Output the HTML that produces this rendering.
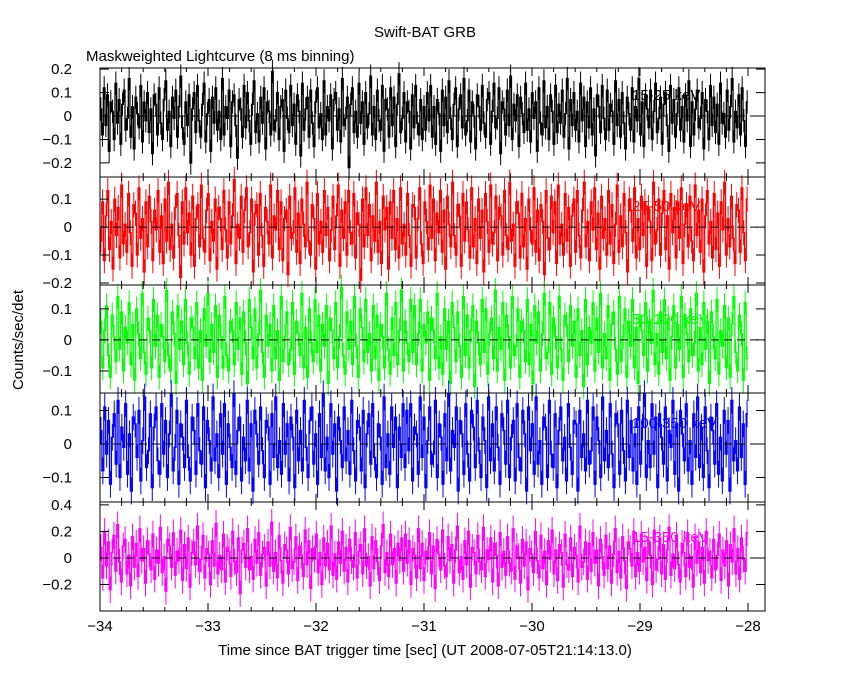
<!DOCTYPE html>
<html><head><meta charset="utf-8"><style>
body{margin:0;background:#fff}
svg text{font-family:"Liberation Sans",sans-serif;font-size:15px}
</style></head><body>
<svg id="chart" width="850" height="680" viewBox="0 0 850 680" xmlns="http://www.w3.org/2000/svg">
<rect width="850" height="680" fill="#fff"/>
<text x="425" y="37" text-anchor="middle">Swift-BAT GRB</text>
<text x="86" y="61">Maskweighted Lightcurve (8 ms binning)</text>
<text transform="translate(23,340) rotate(-90)" text-anchor="middle">Counts/sec/det</text>
<text x="425" y="655" text-anchor="middle">Time since BAT trigger time [sec] (UT 2008-07-05T21:14:13.0)</text>
<g id="plots"></g>
</svg>
<script>
const xTicks=[-34,-33,-32,-31,-30,-29,-28];
const labels=["15-25 keV","25-50 keV","50-100 keV","100-350 keV","15-350 keV"];
const s1=[3,-8,12,-4,9,-15,6,2,-10,14,-3,7,-12,5,11,-6,-1,16,-9,4,-14,8,1,-5,13,-11,6,-2,10,-7,3,-16,9,5,-8,12,-3,-10,7,15,-6,2,-13,8,-1,11,-9,4,17,-5,-12,6,-4,9,-20,3,10,-7,13,-2,-9,5,14,-11,1,7,-15,8,-3,12,-6,2,-10,16,-8,4,-1,11,-13,6,9,-4,-18,7,3,-9,13,-5,10,-2,-12,5,15,-7,1,-11,8,-3,12,-14,6,2,-8,19,-6,-2,10,-10,4,7,-15,11,-1,-7,13,-4,5,-12,9,2,-17,14,-6,3,8,-9,11,-3,-13,6,12,-5,1,-10,15,-8,4,-2,9,-14,7,10,-6,3,-11,16,-4,-1,8,-22,5,12,-7,2,-9,14,-3,6,-12,10,-5,1,17,-8,4,-10,11,-2,-6,13,-15,7,3,-9,12,-4,8,-13,5,18,-7,-1,10,-11,6,2,-14,9,-5,13,-3,-8,7,-10,4];
const t1=[-6,10,-2,13,-9,4,-12,7,1,-15,11,-4,8,-7,15,-1,-10,5,12,-13,3,9,-5,16,-8,-2,11,-11,6,0,-14,9,4,-6,13,-3,-9,7,10,-12,2,14,-5,-1,12,-16,6,3,-8,11,-4,17,-10,5,-2,9,-13,8,1,-7,14,-6,3,-11,10,-1,6,-15,12,-3,-8,15,-5,4,-10,9,2,-12,13,-7,5,-3,11,-9,1,16,-14,7,-4,10,-6,2,-11,14,-2,8,-13,6,-5,12,-8,3,-17,9,4,-7,13,-1,-10,11,-6,5,2,-12,15,-4,7,-9,10,-3,-14,8,1,-6,12,-11,4,-2,16,-8,6,-13,9,3,-5,11,-10,2,14,-7,-1,8,-12,5,10,-4,-15,13,-3,7,-9,1,12,-6,4,-11,9,-2,15,-13,6,-8,3,11,-5,-1,10,-14,7,2,-10,13,-4,8,-7,5,-12,14,-3,1,-9,11,-6,4,16,-11,2,-5,9,-8,12,-2,-13,6];
const s2=[-5,9,-12,4,13,-8,2,-15,10,-3,7,-11,15,-6,1,-9,12,-2,-14,8,5,-10,14,-4,3,-16,9,-7,11,2,-12,6,-1,13,-9,4,-13,10,-5,16,-8,1,-11,7,12,-3,-18,9,-6,14,-2,5,-10,11,-14,3,8,-7,15,-4,-9,6,12,-12,2,-5,10,-15,7,3,-8,13,-1,-11,9,-6,4,17,-13,1,-4,11,-9,6,14,-7,-2,10,-16,5,8,-10,12,-3,-14,7,2,-6,15,-11,4,-1,13,-8,9,-12,3,6,-17,11,-4,-2,14,-9,5,-13,10,1,-7,16,-5,-10,8,3,-15,12,-6,2,-9,13,-3,7,-12,-1,11,-8,4,15,-14,6,-4,9,-10,13,-2,-6,12,-11,5,1,-19,10,-7,14,-3,8,-12,4,-5,16,-9,2,-13,11,-1,7,-15,9,-4,13,-8,3,-11,14,-6,1,-10,12,-3,-14,8];
const t2=[7,-11,3,14,-6,-13,9,2,-8,15,-4,10,-12,5,-2,13,-9,6,-15,11,1,-7,16,-3,-10,8,4,-14,12,-5,9,-1,-11,14,-7,3,-13,10,-4,6,-16,12,2,-9,15,-6,-2,11,-12,7,4,-10,13,-3,-8,16,-5,1,-14,9,5,-11,12,-7,3,-15,10,-1,-6,14,-9,6,-12,8,2,-17,13,-4,-8,11,-2,9,-13,15,-6,1,-10,12,-5,7,-14,4,10,-9,13,-3,-11,6,16,-7,2,-12,9,-1,14,-8,5,-15,11,-4,3,-10,13,-6,8,-13,1,15,-9,4,-7,12,-2,-16,10,6,-5,14,-11,3,-8,11,-3,9,-14,7,2,-12,16,-6,-1,10,-10,5,13,-8,4,-15,12,-2,7,-11,9,-4,14,-13,1,8,-7,11,-5,-12,15,-3,6,-9,10,-16,4,13,-6,2,-11,12,-8,5,-14,9,-1,16,-10,3,-7,11,-4,-13,8,6,-9,14,-2,-12,10];
const s3=[6,-9,3,11,-5,-12,8,1,-7,14,-3,9,-10,4,-1,12,-8,5,-13,10,2,-6,15,-4,-11,7,3,-9,13,-2,8,-12,5,1,-7,16,-5,-10,9,2,-14,11,-3,6,-8,13,-1,-11,7,4,-6,12,-9,3,-13,10,-2,15,-7,5,-4,11,-12,8,1,-9,14,-5,-10,6,3,-8,12,-3,7,-11,9,-1,-14,13,4,-6,10,-9,2,16,-4,-12,8,-2,5,-10,11,-6,3,-13,14,-7,1,9,-8,-3,12,-11,6,2,-5,15,-9,4,-12,10,-1,-7,13,-4,8,-10,5,-2,11,-14,7,3,-6,12,-9,1,17,-5,-11,9,-3,6,-8,14,-2,-12,10,4,-7,13,-4,2,-10,11,-6,8,-13,5,1,-9,15,-3,-11,7,-5,12,-8,3,16,-10,6,-1,-7,13];
const t3=[-4,11,-8,2,13,-10,5,-1,9,-13,7,3,-6,15,-9,1,-11,10,-3,6,-14,12,4,-7,9,-2,-12,14,-5,8,-9,3,11,-15,6,-1,-8,13,-4,10,-11,2,7,-6,16,-10,4,-3,12,-13,8,1,-9,14,-5,-2,10,-12,6,3,-7,13,-8,5,-14,11,-1,9,-10,2,15,-6,-4,12,-11,7,1,-9,14,-3,-13,8,5,-7,11,-2,6,-12,10,-5,3,-15,13,-8,4,-1,12,-10,7,-4,15,-9,2,-6,11,-13,5,9,-3,-11,14,-7,1,10,-12,6,-2,13,-9,4,-14,8,3,-5,12,-10,6,-1,16,-8,2,-11,9,-4,13,-6,7,-13,1,11,-9,5,-3,14,-12,8,2,-7,10,-5,-1,15,-10,4,-8,12,-3,6,-14,9,1,-6,13,-11,3,-2,11,-9,7,-12,5,14,-4,-10,8,2,-13,12,-6];
const s4=[4,-8,11,-3,7,-12,2,9,-6,13,-10,5,-1,12,-9,3,-14,8,6,-4,10,-11,1,14,-7,-2,9,-13,5,11,-5,-9,12,-3,7,-10,3,15,-8,-1,10,-12,6,2,-7,13,-4,-11,8,4,-9,12,-2,-6,11,-13,7,1,-8,14,-5,3,-10,9,-3,12,-12,6,-1,-7,15,-9,4,8,-11,2,-5,13,-8,6,-14,10,3,-6,11,-2,-10,7,5,-12,9,-4,14,-7,1,-9,12,-3,6,-11,8,2,-13,10,-5,4,-8,13,-1,-10,7,11,-6,3,-12,9,-4,15,-8,2,-10,12,-3,6,-14,8,1,-7,11,-5,4,-9,13,-2,-11,7,5,-8,10,-13,3,9,-6,12,-4,-10,6,2,-12,14,-7,3,-9,11,-1,8,-13,5,-4,12];
const t4=[-7,10,-2,12,-11,5,3,-9,14,-4,8,-13,1,11,-6,-3,13,-10,6,2,-12,9,-5,15,-8,4,-1,11,-14,7,3,-9,12,-3,-11,10,5,-7,13,-2,-10,8,1,-13,14,-5,6,-8,11,-1,-12,9,4,-6,13,-10,2,7,-11,12,-4,-8,10,3,-14,11,-2,6,-9,14,-6,1,-12,8,5,-10,13,-3,-7,9,-13,4,11,-5,2,-11,12,-1,-9,7,6,-14,10,-4,3,-8,13,-6,-2,11,-12,8,1,-10,14,-5,4,-7,12,-3,-13,9,6,-9,10,-2,-11,13,-4,7,-8,3,-12,11,-6,5,15,-10,1,-7,12,-3,8,-13,9,2,-6,11,-11,4,-1,13,-9,6,-14,10,3,-5,12,-8,1,-12,9,-4,14,-7,5,-10,11,-2,-13,8,4,-6,12,-9,2,-11,10,-3,7,-14,13,-5,1,-8,11,-4,6,-12,9];
const s5=[8,-15,20,-6,12,-24,4,17,-10,25,-3,-18,9,14,-12,2,-21,16,-7,11,-14,22,-2,7,-19,13,3,-9,18,-16,6,-4,23,-11,1,-25,14,9,-7,19,-13,5,-2,21,-17,10,-8,15,-22,4,12,-5,24,-10,-1,17,-15,7,3,-20,13,-6,26,-12,2,-9,18,-18,8,5,-14,20,-3,-11,15,-27,6,11,-7,22,-9,1,-16,14,-4,19,-13,3,8,-21,12,-6,27,-10,4,-15,17,-2,-19,10,6,-12,23,-8,-3,16,-17,9,2,-14,21,-5,13,-23,7,-1,18,-11,4,-20,15,-6,11,-9,24,-13,3,-16,12,-4,20,-10,8,-18,14,-2,-7,19,-15,5,10,-12,22,-6,1,-21,16,-8,13,-3,-17,9,25,-11,4,-14,18,-5,7,-19,11,-2,15];
const t5=[-10,18,-4,13,-20,7,2,-15,22,-8,11,-17,5,-1,19,-12,9,-23,14,3,-9,21,-6,-14,16,-2,10,-19,6,24,-11,1,-16,13,-5,20,-22,8,4,-12,17,-3,-9,23,-14,6,-1,15,-18,11,2,-21,19,-7,5,-13,16,-4,-10,22,-16,9,1,-19,14,-6,12,-24,7,3,-11,20,-2,-15,17,-8,5,-20,13,-1,21,-12,6,-17,10,4,-22,18,-5,-9,15,-14,8,2,-18,24,-7,-3,12,-16,11,-10,19,-4,6,-21,14,1,-13,17,-8,9,-19,3,22,-11,5,-15,16,-2,-23,12,7,-6,20,-14,4,-10,18,-3,8,-17,13,2,-20,21,-9,-1,15,-12,10,-16,6,23,-13,3,-8,17,-5,-18,11,4,-14,19,-7,1,-22,16,-4,12,-11,8,-19,20,-2,5,-15,14,-9,2,18,-17,6,-6,13,-21,10,-3,22,-12,7,-16,15,-1,-10,19];
const series=[[...s1,...t1],[...s2,...t2],[...s3,...t3],[...s4,...t4],[...s5,...t5]];
const colors=["#000","#f00","#0f0","#00f","#f0f"];
const panels=[{t:68,b:177,max:0.205,min:-0.26,ticks:[0.2,0.1,0,-0.1,-0.2],lab:["0.2","0.1","0","\u22120.1","\u22120.2"],err:0.05,scale:0.01},
{t:177,b:285,max:0.179,min:-0.207,ticks:[0.1,0,-0.1,-0.2],lab:["0.1","0","\u22120.1","\u22120.2"],err:0.045,scale:0.01},
{t:285,b:393,max:0.177,min:-0.171,ticks:[0.1,0,-0.1],lab:["0.1","0","\u22120.1"],err:0.04,scale:0.01},
{t:393,b:502,max:0.152,min:-0.173,ticks:[0.1,0,-0.1],lab:["0.1","0","\u22120.1"],err:0.04,scale:0.01},
{t:502,b:611,max:0.422,min:-0.4,ticks:[0.4,0.2,0,-0.2],lab:["0.4","0.2","0","\u22120.2"],err:0.1,scale:0.01}];
const X0=100,X1=765,T0=-34,PXS=108;
const xs=t=>X0+(t-T0)*PXS;
const NS="http://www.w3.org/2000/svg";
const g=document.getElementById('plots');
function mk(tag,attrs){const e=document.createElementNS(NS,tag);for(const k in attrs)e.setAttribute(k,attrs[k]);g.appendChild(e);return e;}
panels.forEach((p,i)=>{
  const ys=v=>p.t+(p.max-v)/(p.max-p.min)*(p.b-p.t);
  const d=series[i];const n=d.length;const dt=6/n;
  let err="";let path="";
  for(let k=0;k<n;k++){
    const v=d[k]*p.scale;const xa=xs(T0+k*dt),xb=xs(T0+(k+1)*dt),xm=(xa+xb)/2;
    path+=(k==0?"M"+xa+" "+ys(v):"V"+ys(v))+"H"+xb;
    err+="M"+xm+" "+ys(v+p.err)+"V"+ys(v-p.err);
  }
  const e1=mk('path',{d:err,stroke:colors[i],'stroke-width':1,fill:'none'});
  
  
  const l=mk('path',{d:path,stroke:colors[i],'stroke-width':1.3,fill:'none'});
  
  
  const z=mk('line',{x1:X0,x2:X1,y1:ys(0),y2:ys(0),stroke:'#000','stroke-dasharray':'8,5'});
  
  
  const lb=mk('text',{x:632,y:ys(0)-16,fill:colors[i],'font-size':15});
  lb.textContent=labels[i];
  
  
  const fr=mk('rect',{x:X0,y:p.t,width:X1-X0,height:p.b-p.t,fill:'none',stroke:'#000'});
  
  
  p.ticks.forEach((tv,j)=>{
    const y=ys(tv);
    mk('path',{d:`M${X0} ${y}h9M${X1} ${y}h-9`,stroke:'#000'});
    const tx=mk('text',{x:72,y:y+5,'text-anchor':'end'});
    tx.textContent=p.lab[j];
    
    
  });
  for(let t=-34;t<=-27.8;t+=0.2){
    const x=xs(t);const maj=Math.abs(t-Math.round(t))<0.01;const L=maj?8:4;
    mk('path',{d:`M${x} ${p.b}v-${L}M${x} ${p.t}v${L}`,stroke:'#000'});
  }
});
xTicks.forEach(t=>{
  const tx=mk('text',{x:xs(t),y:631,'text-anchor':'middle'});
  tx.textContent=(t<0?"\u2212":"")+Math.abs(t);
  
  
});
</script>
</body></html>
